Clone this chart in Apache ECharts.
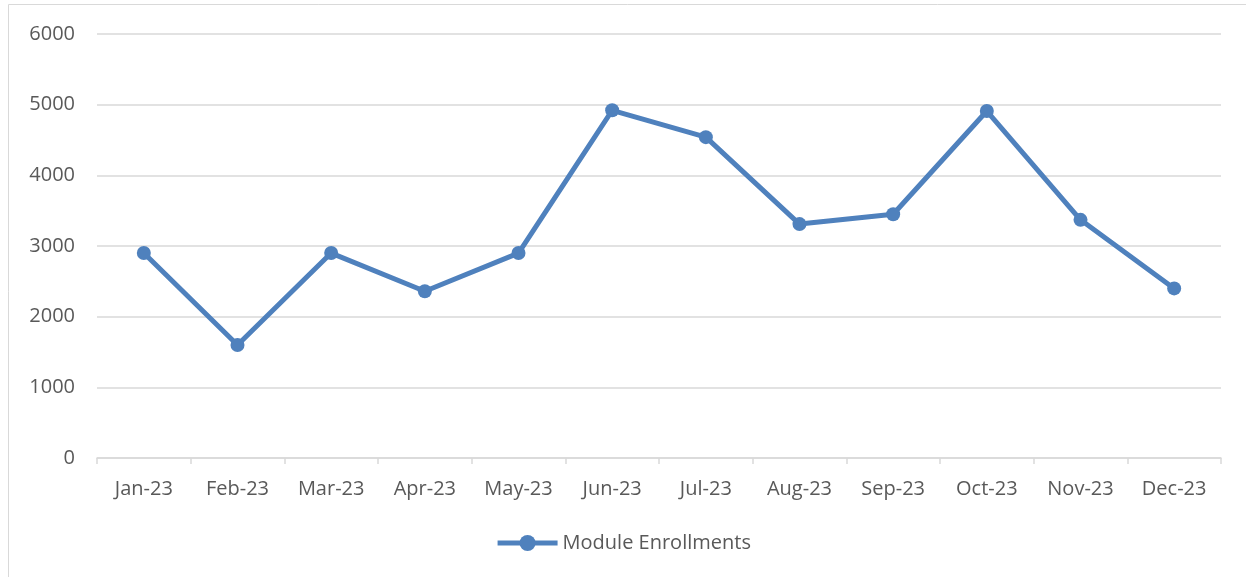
<!DOCTYPE html>
<html>
<head>
    <meta charset="utf-8">
    <script src="https://cdn.jsdelivr.net/npm/echarts@6/dist/echarts.min.js"></script>
    <style>
        html, body { margin: 0; padding: 0; background: #fff; }
        #main { width: 1246px; height: 577px; }
    </style>
</head>
<body>
<div id="main"></div>
<script type="text/javascript">
    // data
    var months = ['Jan-23', 'Feb-23', 'Mar-23', 'Apr-23', 'May-23', 'Jun-23',
                  'Jul-23', 'Aug-23', 'Sep-23', 'Oct-23', 'Nov-23', 'Dec-23'];
    var enrollments = [2900, 1600, 2900, 2360, 2900, 4920, 4540, 3310, 3450, 4910, 3370, 2400];
    var yTicks = { min: 0, max: 6000, interval: 1000 };

    var labelFont = 'Open Sans, Liberation Sans, sans-serif';
    var myChart = echarts.init(document.getElementById('main'));

    var opt = {
        animation: false,
        graphic: [{
            type: 'rect',
            shape: { x: 8.5, y: 4.5, width: 1250, height: 590 },
            style: { fill: 'none', stroke: '#d9d9d9', lineWidth: 1 }
        }],
        grid: { left: 97, right: 25, top: 34, bottom: 119 },
        legend: {
            bottom: 19,
            left: 'center',
            itemWidth: 60,
            itemHeight: 20,
            itemGap: 4,
            itemStyle: { color: '#4f81bd' },
            lineStyle: { color: '#4f81bd', width: 5 },
            textStyle: { color: '#595959', fontSize: 20, fontFamily: labelFont },
            data: ['Module Enrollments']
        },
        xAxis: {
            type: 'category',
            data: months,
            boundaryGap: true,
            axisLine: { lineStyle: { color: '#d9d9d9', width: 1.5 } },
            axisTick: { show: true, length: 6, lineStyle: { color: '#d9d9d9', width: 1.5 } },
            axisLabel: { color: '#595959', fontSize: 20, fontFamily: labelFont, margin: 21 }
        },
        yAxis: {
            type: 'value',
            min: yTicks.min,
            max: yTicks.max,
            interval: yTicks.interval,
            axisLine: { show: false },
            axisTick: { show: false },
            axisLabel: {
                color: '#595959', fontSize: 20, fontFamily: labelFont, margin: 22,
                formatter: function (v) { return String(v); }
            },
            splitLine: { lineStyle: { color: '#d9d9d9', width: 1.5 } }
        },
        series: [{
            name: 'Module Enrollments',
            type: 'line',
            data: enrollments,
            symbol: 'circle',
            symbolSize: 14,
            lineStyle: { color: '#4f81bd', width: 5 },
            itemStyle: { color: '#4f81bd' }
        }]
    };

    myChart.setOption(option = opt);
</script>
</body>
</html>
